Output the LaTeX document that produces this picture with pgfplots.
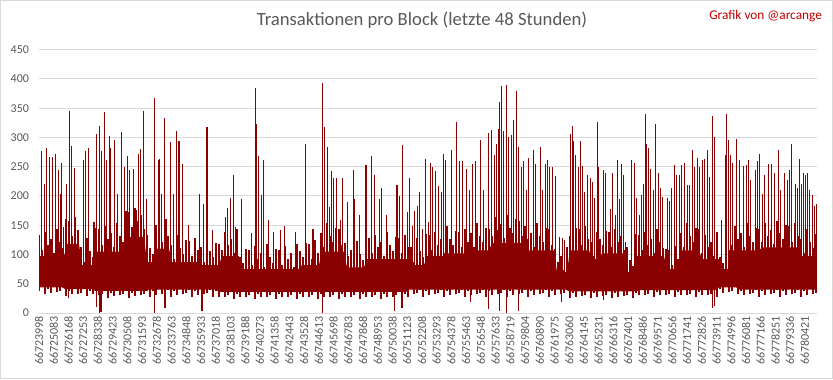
\documentclass[border=0pt]{standalone}
\usepackage{pgfplots}
\usepackage{pgfplotstable}
\pgfplotsset{compat=1.18}
\usepackage{fontspec}
\setmainfont{Carlito}
\definecolor{darkred}{RGB}{139,0,0}
\definecolor{gridgray}{RGB}{217,217,217}
\definecolor{labelgray}{RGB}{89,89,89}
\definecolor{signred}{RGB}{192,0,0}

% solid core of the band (c = column, 1 column = 73.66 blocks)
\pgfplotstableread[row sep=\\]{c y\\
0 97\\ 25 97\\ 28 118\\ 40 118\\ 43 82\\ 55 82\\ 58 105\\ 85 105\\ 88 130\\ 105 130\\ 108 87\\ 115 87\\ 118 110\\ 130 110\\ 133 87\\ 160 87\\ 163 82\\ 180 82\\ 183 97\\ 200 97\\ 203 75\\ 260 75\\ 263 82\\ 280 82\\ 283 105\\ 305 105\\ 308 78\\ 325 78\\ 328 92\\ 370 92\\ 373 82\\ 385 82\\ 388 97\\ 405 97\\ 408 102\\ 430 102\\ 433 107\\ 450 107\\ 453 120\\ 485 120\\ 488 107\\ 515 107\\ 518 70\\ 528 70\\ 531 107\\ 550 107\\ 553 92\\ 560 92\\ 563 102\\ 585 102\\ 588 70\\ 595 70\\ 598 97\\ 625 97\\ 628 75\\ 640 75\\ 643 107\\ 660 107\\ 663 92\\ 680 92\\ 683 75\\ 690 75\\ 693 107\\ 720 107\\ 723 112\\ 760 112\\ 763 97\\ 778 97\\
778 40\\ 700 40\\ 697 44\\ 680 44\\ 677 39\\ 600 39\\ 597 37\\ 530 37\\ 527 40\\ 370 40\\ 367 36\\ 180 36\\ 177 40\\ 110 40\\ 107 38\\ 56 38\\ 53 41\\ 26 41\\ 23 44\\ 0 44\\
}\core

% dense strokes of the band
\pgfplotstableread[row sep=\\]{c lo hi\\
0 38 133\\ 3 44 107\\ 6 32 139\\ 9 41 117\\ 12 35 127\\ 15 46 103\\ 18 36 143\\ 21 38 121\\ 24 44 111\\
27 29 160\\ 30 38 158\\ 33 32 132\\ 36 43 164\\ 39 33 142\\
42 35 112\\ 45 41 88\\ 48 29 128\\ 51 38 106\\ 54 32 96\\
57 40 145\\ 60 30 143\\ 63 32 117\\ 66 38 149\\ 69 26 127\\ 72 35 137\\ 75 29 113\\ 78 40 153\\ 81 30 131\\ 84 32 121\\
87 38 175\\ 90 26 173\\ 93 35 147\\ 96 29 179\\ 99 40 157\\ 102 30 167\\ 105 32 143\\
108 38 133\\ 111 28 111\\ 114 37 101\\
117 31 150\\ 120 42 148\\ 123 32 122\\ 126 34 154\\ 129 40 132\\
132 28 117\\ 135 37 93\\ 138 31 133\\ 141 42 111\\ 144 32 101\\ 147 34 125\\ 150 40 123\\ 153 28 97\\ 156 37 129\\ 159 31 107\\
162 42 112\\ 165 32 88\\ 168 34 128\\ 171 40 106\\ 174 28 96\\ 177 37 120\\ 180 27 118\\
183 38 107\\ 186 28 139\\ 189 30 117\\ 192 36 127\\ 195 24 103\\ 198 33 143\\
201 27 96\\ 204 38 86\\ 207 28 110\\ 210 30 108\\ 213 36 82\\ 216 24 114\\ 219 33 92\\ 222 27 102\\ 225 38 78\\ 228 28 118\\ 231 30 96\\ 234 36 86\\ 237 24 110\\ 240 33 108\\ 243 27 82\\ 246 38 114\\ 249 28 92\\ 252 30 102\\ 255 36 78\\ 258 24 118\\
261 33 106\\ 264 27 96\\ 267 38 120\\ 270 28 118\\ 273 30 92\\ 276 36 124\\ 279 24 102\\
282 33 137\\ 285 27 113\\ 288 38 153\\ 291 28 131\\ 294 30 121\\ 297 36 145\\ 300 24 143\\ 303 33 117\\
306 27 119\\ 309 38 97\\ 312 28 107\\ 315 30 83\\ 318 36 123\\ 321 24 101\\ 324 33 91\\
327 27 130\\ 330 38 128\\ 333 28 102\\ 336 30 134\\ 339 36 112\\ 342 24 122\\ 345 33 98\\ 348 27 138\\ 351 38 116\\ 354 28 106\\ 357 30 130\\ 360 36 128\\ 363 24 102\\ 366 33 134\\ 369 27 112\\
372 42 112\\ 375 32 88\\ 378 34 128\\ 381 40 106\\ 384 28 96\\
387 37 135\\ 390 31 133\\ 393 42 107\\ 396 32 139\\ 399 34 117\\ 402 40 127\\ 405 28 103\\
408 37 148\\ 411 31 126\\ 414 42 116\\ 417 32 140\\ 420 34 138\\ 423 40 112\\ 426 28 144\\ 429 37 122\\
432 31 137\\ 435 42 113\\ 438 32 153\\ 441 34 131\\ 444 40 121\\ 447 28 145\\ 450 37 143\\
453 31 132\\ 456 42 164\\ 459 32 142\\ 462 34 152\\ 465 40 128\\ 468 28 168\\ 471 37 146\\ 474 31 136\\ 477 42 160\\ 480 32 158\\ 483 34 132\\
486 40 149\\ 489 28 127\\ 492 37 137\\ 495 31 113\\ 498 42 153\\ 501 32 131\\ 504 34 121\\ 507 40 145\\ 510 28 143\\ 513 37 117\\
516 31 109\\ 519 42 87\\ 522 32 97\\ 525 34 73\\ 528 40 113\\
531 25 131\\ 534 34 121\\ 537 28 145\\ 540 39 143\\ 543 29 117\\ 546 31 149\\ 549 37 127\\
552 25 122\\ 555 34 98\\ 558 28 138\\
561 39 126\\ 564 29 116\\ 567 31 140\\ 570 37 138\\ 573 25 112\\ 576 34 144\\ 579 28 122\\ 582 39 132\\ 585 29 108\\
588 31 113\\ 591 37 91\\ 594 25 81\\
597 34 135\\ 600 30 133\\ 603 41 107\\ 606 31 139\\ 609 33 117\\ 612 39 127\\ 615 27 103\\ 618 36 143\\ 621 30 121\\ 624 41 111\\
627 31 110\\ 630 33 108\\ 633 39 82\\ 636 27 114\\ 639 36 92\\
642 30 137\\ 645 41 113\\ 648 31 153\\ 651 33 131\\ 654 39 121\\ 657 27 145\\ 660 36 143\\
663 30 102\\ 666 41 134\\ 669 31 112\\ 672 33 122\\ 675 39 98\\ 678 27 138\\
681 41 96\\ 684 35 86\\ 687 46 110\\ 690 36 108\\
693 38 117\\ 696 44 149\\ 699 32 127\\ 702 37 137\\ 705 31 113\\ 708 42 153\\ 711 32 131\\ 714 34 121\\ 717 40 145\\ 720 28 143\\
723 37 122\\ 726 31 154\\ 729 42 132\\ 732 32 142\\ 735 34 118\\ 738 40 158\\ 741 28 136\\ 744 37 126\\ 747 31 150\\ 750 42 148\\ 753 32 122\\ 756 34 154\\ 759 40 132\\
762 28 127\\ 765 37 103\\ 768 31 143\\ 771 42 121\\ 774 32 111\\ 777 34 135\\
}\texture

% tall spikes
\pgfplotstableread[row sep=\\]{c v\\
2.7 276\\ 5.3 221\\ 7.3 282\\ 10.3 267\\ 13.3 267\\ 16.3 271\\ 19.3 244\\ 21.7 204\\ 22.3 257\\ 24.7 147\\ 27.7 221\\ 30.3 346\\ 32.3 285\\ 35.3 248\\ 44.3 261\\ 46.3 277\\ 49.7 282\\ 55 155\\ 57.3 306\\ 60.3 320\\ 62.3 276\\ 65.3 343\\ 67.7 261\\ 70.3 302\\ 71 282\\ 75.3 295\\ 78.7 204\\ 82.3 310\\ 85.7 250\\ 88.3 269\\ 90.3 244\\ 94.3 246\\ 97 176\\ 99.3 272\\ 101.3 280\\ 104.3 346\\ 107.3 194\\ 115.3 368\\ 119.7 261\\ 120.7 264\\ 122.3 204\\ 125.3 334\\ 127 161\\ 131.3 293\\ 134.7 204\\ 137.3 311\\ 140 294\\ 143.3 255\\ 149.3 150\\ 160.7 204\\ 164.3 187\\ 168 318\\ 173.7 142\\ 186.3 164\\ 188.3 180\\ 191.3 197\\ 194.3 235\\ 196.3 147\\ 202.3 194\\ 212.3 137\\ 216.3 385\\ 217.3 323\\ 219.3 268\\ 222.3 201\\ 224.3 261\\ 229.3 159\\ 234.3 138\\ 241.3 142\\ 245.3 148\\ 256.3 138\\ 266.3 288\\ 274 144\\ 283.3 393\\ 285.3 318\\ 288.3 284\\ 290.3 181\\ 292.3 242\\ 294.3 230\\ 297.3 231\\ 301.3 159\\ 303.3 231\\ 308.3 190\\ 314.3 244\\ 315.3 194\\ 320.3 167\\ 327 253\\ 332.7 268\\ 335.7 236\\ 340.7 194\\ 342.7 213\\ 347.7 167\\ 358 218\\ 360.3 200\\ 363.3 287\\ 368.3 173\\ 370.3 231\\ 373.7 149\\ 375.7 174\\ 378.7 182\\ 380.3 207\\ 383.3 144\\ 386.3 263\\ 389.3 155\\ 391.3 257\\ 393.3 250\\ 396.3 242\\ 399.3 217\\ 402.3 207\\ 404.3 272\\ 406.3 261\\ 412.3 278\\ 417.3 327\\ 420.3 260\\ 423.3 260\\ 427.3 246\\ 430.7 211\\ 433.3 254\\ 436.3 260\\ 441.3 295\\ 444.3 210\\ 449.3 308\\ 452.3 313\\ 455.3 270\\ 457.3 288\\ 459.3 315\\ 460.3 361\\ 462.3 388\\ 464.3 311\\ 467.3 390\\ 469.3 301\\ 472.3 305\\ 474.3 329\\ 477.3 380\\ 479.3 283\\ 482.3 250\\ 484.3 260\\ 487.3 211\\ 489.3 265\\ 494.3 278\\ 496.3 255\\ 501.3 283\\ 503.3 210\\ 506.3 254\\ 508.3 262\\ 510.7 250\\ 513.7 250\\ 516.7 234\\ 520.3 130\\ 523.7 128\\ 525.7 124\\ 531.3 306\\ 533.3 320\\ 534.3 294\\ 536.3 270\\ 539.3 250\\ 541.3 294\\ 543.3 252\\ 545.3 207\\ 548.3 235\\ 551.3 231\\ 553.3 224\\ 555.3 197\\ 558.3 326\\ 559.7 250\\ 564.3 245\\ 566.3 240\\ 571.3 177\\ 573.3 240\\ 576.3 167\\ 578.3 261\\ 580.3 195\\ 582.3 254\\ 584.3 235\\ 586.3 122\\ 592.3 261\\ 595.3 257\\ 597.3 197\\ 600.3 167\\ 602.3 201\\ 604.3 220\\ 606.3 340\\ 607.3 288\\ 609.3 282\\ 611.3 246\\ 614.3 211\\ 616.3 323\\ 619.3 240\\ 621.3 214\\ 623.3 199\\ 628.3 197\\ 630.3 192\\ 632.3 213\\ 635.3 253\\ 637.3 236\\ 640.3 235\\ 642.3 253\\ 645.3 257\\ 648.3 219\\ 650.3 219\\ 653.3 278\\ 655.3 250\\ 658.3 265\\ 660.3 250\\ 663.3 261\\ 665.3 264\\ 668.3 278\\ 670.3 232\\ 673.3 336\\ 675.3 300\\ 682.3 159\\ 686.3 270\\ 687.3 340\\ 689.3 295\\ 691.3 270\\ 693.3 257\\ 697.3 298\\ 700.3 261\\ 704.3 251\\ 707.3 253\\ 709.3 261\\ 711.3 228\\ 716.3 244\\ 718.3 259\\ 720.3 271\\ 723.3 204\\ 725.3 236\\ 729.3 255\\ 732.3 255\\ 735.3 240\\ 739.3 278\\ 741.3 210\\ 745.3 240\\ 748.3 227\\ 750.3 244\\ 752.3 289\\ 756.3 221\\ 758.3 213\\ 760.3 264\\ 762.3 221\\ 764.3 240\\ 766.3 236\\ 768.3 240\\ 770.3 211\\ 773.3 201\\ 775.3 183\\ 777.3 187\\
}\spikes

% downward dips
\pgfplotstableread[row sep=\\]{c v\\
29.3 25\\ 57.7 11\\ 60.3 0\\ 62 2\\ 115.3 0\\ 126 8\\ 163 3\\ 283.3 0\\ 355.3 4\\ 363 9\\ 431.3 19\\ 449.7 7\\ 460.3 3\\ 467.3 0\\ 479.3 4\\ 522.7 19\\ 564.3 22\\ 673.3 9\\ 675.3 12\\
}\dips

\pgfplotsset{
  strokes/.style={only marks, mark=none, mark size=0pt,
    mark options={draw=none, fill=none}, forget plot,
    error bars/.cd, y dir=plus, y explicit, error mark=none,
    error bar style={line width=#1, color=darkred, solid}},
}

\begin{document}
\begin{tikzpicture}
\useasboundingbox (0,0) rectangle (624.75pt,284.25pt);
\fill[white] (0,0) rectangle (624.75pt,284.25pt);
\begin{axis}[
  at={(29.25pt,49.5pt)}, anchor=south west,
  scale only axis, width=583.5pt, height=197.5pt,
  xmin=0, xmax=57310, ymin=0, ymax=450,
  scaled x ticks=false, scaled y ticks=false,
  ytick={0,50,...,450},
  xtick={0,1085,...,56420},
  xticklabels={66723998,66725083,66726168,66727253,66728338,66729423,66730508,66731593,66732678,66733763,66734848,66735933,66737018,66738103,66739188,66740273,66741358,66742443,66743528,66744613,66745698,66746783,66747868,66748953,66750038,66751123,66752208,66753293,66754378,66755463,66756548,66757633,66758719,66759804,66760890,66761975,66763060,66764145,66765231,66766316,66767401,66768486,66769571,66770656,66771741,66772826,66773911,66774996,66776081,66777166,66778251,66779336,66780421},
  xticklabel style={rotate=90, anchor=east, font=\fontsize{9}{10}\selectfont, color=labelgray, inner sep=2pt},
  yticklabel style={font=\fontsize{9}{10}\selectfont, color=labelgray, xshift=-4pt},
  /pgf/number format/assume math mode=true,
  ymajorgrids, grid style={color=gridgray, line width=0.75pt},
  axis line style={draw=none},
  major tick length=0pt,
]
\addplot[fill=darkred, draw=none, forget plot] table[x expr=\thisrow{c}*73.66, y=y] {\core};
\addplot[strokes=1.4pt]
  table[x expr=\thisrow{c}*73.66, y=lo, y error plus expr=\thisrow{hi}-\thisrow{lo}] {\texture};
\addplot[strokes=0.8pt]
  table[x expr=\thisrow{c}*73.66, y expr=60, y error plus expr=\thisrow{v}-60] {\spikes};
\addplot[strokes=0.8pt]
  table[x expr=\thisrow{c}*73.66, y=v, y error plus expr=60-\thisrow{v}] {\dips};
\end{axis}
\node[color=labelgray, font=\fontsize{14}{16}\selectfont] at (316.5pt,269.25pt) {Transaktionen pro Block (letzte 48 Stunden)};
\node[anchor=east, color=signred, font=\fontsize{10}{12}\selectfont] at (620pt,272.25pt) {Grafik von @arcange};
\draw[gridgray, line width=0.75pt] (0.375pt,0.375pt) rectangle (624.375pt,283.875pt);
\end{tikzpicture}
\end{document}
